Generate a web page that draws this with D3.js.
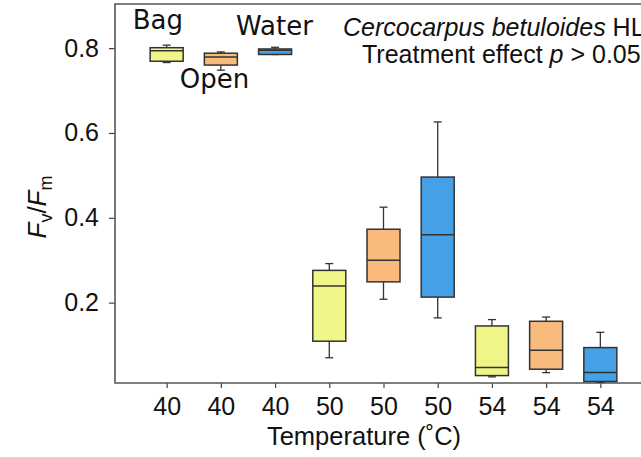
<!DOCTYPE html>
<html>
<head>
<meta charset="utf-8">
<script src="https://cdn.jsdelivr.net/npm/d3@7"></script>
<style>
  body { margin: 0; background: #fff; }
  svg { display: block; }
  text { font-family: "Liberation Sans", Arial, sans-serif; fill: #111; }
</style>
</head>
<body>
<div id="chart"></div>
<script>
// temperature label under each box, and treatment of each box
var temps = ["40", "40", "40", "50", "50", "50", "54", "54", "54"];
var treatments = ["Bag", "Open", "Water", "Bag", "Open", "Water", "Bag", "Open", "Water"];

// box plot stats (Fv/Fm)
var whiskLow  = [0.766, 0.748, 0.785, 0.070, 0.208, 0.164, 0.025, 0.035, 0.012];
var q1        = [0.769, 0.760, 0.785, 0.109, 0.249, 0.213, 0.028, 0.043, 0.014];
var median    = [0.794, 0.779, 0.795, 0.239, 0.300, 0.360, 0.047, 0.088, 0.035];
var q3        = [0.801, 0.788, 0.798, 0.276, 0.373, 0.496, 0.145, 0.156, 0.094];
var whiskHigh = [0.807, 0.791, 0.802, 0.292, 0.425, 0.626, 0.160, 0.166, 0.130];

var yTicks = [0.2, 0.4, 0.6, 0.8];
var fills = {Bag: "#f1f587", Open: "#f8bb7b", Water: "#44a1e6"};

var W = 641, H = 457;
var pLeft = 115, pTop = 4, pBottom = 383, pRight = 652;

var svg = d3.select("#chart").append("svg")
    .attr("width", W)
    .attr("height", H);

var idx = d3.range(temps.length);

var x = d3.scalePoint()
    .domain(idx)
    .range([pLeft, pRight])
    .padding(0.953);

var y = d3.scaleLinear()
    .domain([0.0105, 0.904])
    .range([pBottom, pTop]);

var boxW = 33;

// axes
svg.append("g")
    .attr("transform", "translate(" + pLeft + ",0)")
    .call(d3.axisLeft(y).tickValues(yTicks).tickSize(6).tickPadding(10).tickFormat(d3.format(".1f")))
    .call(function(g) {
      g.select(".domain").remove();
      g.selectAll("line").attr("stroke", "#444").attr("stroke-width", 1.2);
      g.selectAll("text").style("font-size", "25px").style("font-family", "Liberation Sans, Arial, sans-serif").attr("fill", "#111");
    });

svg.append("g")
    .attr("transform", "translate(0," + pBottom + ")")
    .call(d3.axisBottom(x).tickSize(5).tickPadding(9).tickFormat(function(i) { return temps[i]; }))
    .call(function(g) {
      g.select(".domain").remove();
      g.selectAll("line").attr("stroke", "#444").attr("stroke-width", 1.2);
      g.selectAll("text").style("font-size", "25px").style("font-family", "Liberation Sans, Arial, sans-serif").attr("fill", "#111");
    });

// frame (top, left, bottom)
svg.append("path")
    .attr("d", "M" + W + "," + pTop + "H" + pLeft + "V" + pBottom + "H" + W)
    .attr("fill", "none")
    .attr("stroke", "#555")
    .attr("stroke-width", 1.6);

// boxes
var boxes = svg.append("g").selectAll("g")
    .data(idx)
    .enter()
    .append("g");

boxes.append("line")
    .attr("x1", function(i) { return x(i); })
    .attr("x2", function(i) { return x(i); })
    .attr("y1", function(i) { return y(whiskHigh[i]); })
    .attr("y2", function(i) { return y(whiskLow[i]); })
    .attr("stroke", "#333")
    .attr("stroke-width", 1.3);

boxes.selectAll(".cap")
    .data(function(i) { return [[i, whiskHigh[i]], [i, whiskLow[i]]]; })
    .enter()
    .append("line")
    .attr("x1", function(d) { return x(d[0]) - 4; })
    .attr("x2", function(d) { return x(d[0]) + 4; })
    .attr("y1", function(d) { return y(d[1]); })
    .attr("y2", function(d) { return y(d[1]); })
    .attr("stroke", "#333")
    .attr("stroke-width", 1.3);

boxes.append("rect")
    .attr("x", function(i) { return x(i) - boxW / 2; })
    .attr("width", boxW)
    .attr("y", function(i) { return y(q3[i]); })
    .attr("height", function(i) { return y(q1[i]) - y(q3[i]); })
    .attr("fill", function(i) { return fills[treatments[i]]; })
    .attr("stroke", "#333")
    .attr("stroke-width", 1.5);

boxes.append("line")
    .attr("x1", function(i) { return x(i) - boxW / 2; })
    .attr("x2", function(i) { return x(i) + boxW / 2; })
    .attr("y1", function(i) { return y(median[i]); })
    .attr("y2", function(i) { return y(median[i]); })
    .attr("stroke", "#333")
    .attr("stroke-width", 1.5);

// treatment labels near the 40 °C boxes
var labelPos = [[x(0) - 34, 29], [x(1) - 41, 88], [x(2) - 39, 35]];
svg.selectAll(".trt")
    .data([0, 1, 2])
    .enter()
    .append("text")
    .attr("x", function(i) { return labelPos[i][0]; })
    .attr("y", function(i) { return labelPos[i][1]; })
    .style("font-family", "DejaVu Sans, sans-serif")
    .style("font-size", "26px")
    .text(function(i) { return treatments[i]; });

// species / stats text
var t1 = svg.append("text")
    .attr("x", 343).attr("y", 36)
    .style("font-size", "25px");
t1.append("tspan").style("font-style", "italic").text("Cercocarpus betuloides");
t1.append("tspan").text(" HL");

var t2 = svg.append("text")
    .attr("x", 362).attr("y", 63)
    .style("font-size", "25px");
t2.append("tspan").text("Treatment effect ");
t2.append("tspan").style("font-style", "italic").text("p");
t2.append("tspan").text(" > 0.05");

// axis titles
svg.append("text")
    .attr("x", 364).attr("y", 445)
    .attr("text-anchor", "middle")
    .style("font-size", "25.5px")
    .text("Temperature (\u02DAC)");

var yl = svg.append("text")
    .attr("transform", "translate(46,207) rotate(-90)")
    .attr("text-anchor", "middle")
    .style("font-size", "26px");
yl.append("tspan").style("font-style", "italic").text("F");
yl.append("tspan").attr("dy", 6).style("font-size", "18px").text("v");
yl.append("tspan").attr("dy", -6).text("/");
yl.append("tspan").style("font-style", "italic").text("F");
yl.append("tspan").attr("dy", 6).style("font-size", "18px").text("m");
</script>
</body>
</html>
